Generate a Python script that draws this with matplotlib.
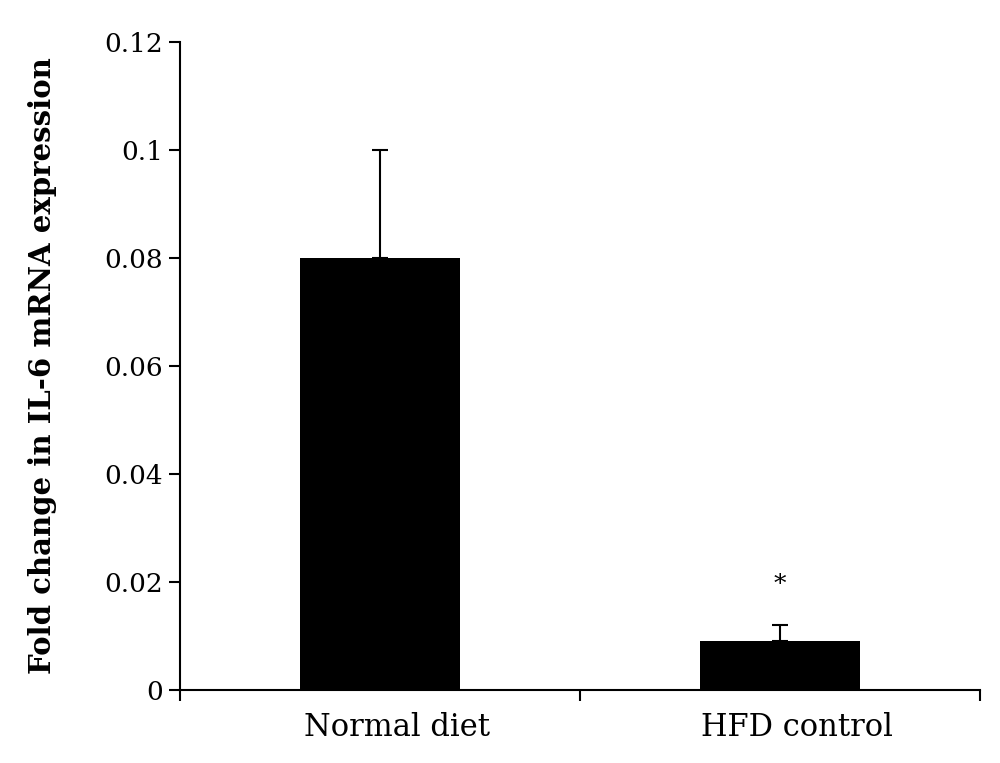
import matplotlib
matplotlib.use("Agg")
import matplotlib.pyplot as plt
import matplotlib.transforms as mtransforms

categories = ["Normal diet", "HFD control"]
values = [0.08, 0.009]
errors_upper = [0.02, 0.003]
significance = ["", "*"]
significance_y = [None, 0.0195]
yticks = [0, 0.02, 0.04, 0.06, 0.08, 0.1, 0.12]
ytick_labels = ["0", "0.02", "0.04", "0.06", "0.08", "0.1", "0.12"]

plt.rcParams['font.family'] = ['DejaVu Serif']

fig = plt.figure(figsize=(10, 7.63), dpi=100)
ax = fig.add_axes([0.18, 0.0957, 0.80, 0.8493])

pos = [0.5 + i for i in range(len(categories))]
lower = [0 for _ in errors_upper]
ax.bar(pos, values, width=0.4, color='black', zorder=2)
ax.errorbar(pos, values, yerr=[lower, errors_upper], fmt='none', ecolor='black',
            elinewidth=1.5, capsize=6, capthick=1.5, zorder=1)
for p, s, sy in zip(pos, significance, significance_y):
    if s:
        ax.text(p, sy, s, ha='center', va='center', fontsize=18)

ax.set_xlim(0, len(categories))
ax.set_ylim(0, 0.12)
ax.set_yticks(yticks)
ax.set_yticklabels(ytick_labels, fontsize=19)
ax.set_xticks(range(len(categories) + 1))
ax.set_xticklabels([])
ax.set_xticks(pos, minor=True)
ax.set_xticklabels(categories, minor=True, fontsize=22)
ax.tick_params(axis='x', which='minor', length=0, pad=16)
ax.tick_params(axis='x', which='major', length=8, width=1.5, direction='out')
ax.tick_params(axis='y', length=8, width=1.5, direction='out', pad=4)

offset = mtransforms.ScaledTranslation(0.17, 0, fig.dpi_scale_trans)
for lbl in ax.get_xticklabels(minor=True):
    lbl.set_transform(lbl.get_transform() + offset)

for s in ['top', 'right']:
    ax.spines[s].set_visible(False)
for s in ['left', 'bottom']:
    ax.spines[s].set_linewidth(1.5)

ax.set_ylabel("Fold change in IL-6 mRNA expression", fontsize=21, fontweight='bold', labelpad=34)

fig.savefig("out.png", dpi=100)
